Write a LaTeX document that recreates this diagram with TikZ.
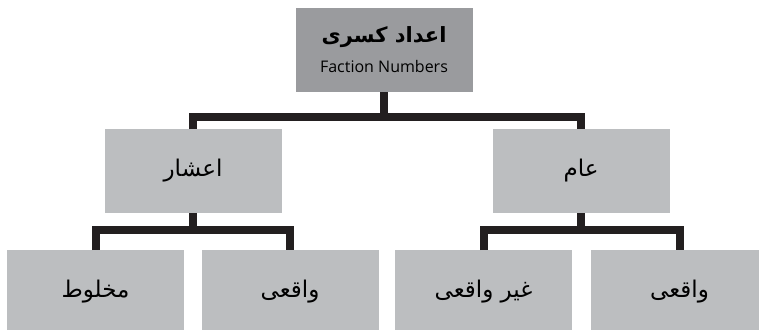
\documentclass[tikz,border=0pt]{standalone}
\usepackage{fontspec}
\setmainfont{Open Sans}
\newfontfamily\arabicfont[Script=Arabic]{DejaVu Sans}
\newfontfamily\latinfont{Open Sans}
\TeXXeTstate=1
\definecolor{darkbox}{HTML}{9A9B9E}
\definecolor{lightbox}{HTML}{BCBEC0}
\definecolor{linecol}{HTML}{231F20}
\tikzset{
  box/.style={fill=lightbox, draw=none, minimum width=177pt, minimum height=84pt, inner sep=0pt, outer sep=0pt, align=center, font=\arabicfont\fontsize{23}{26}\selectfont},
  topbox/.style={box, fill=darkbox},
  conn/.style={draw=linecol, line width=8pt, line join=miter, line cap=butt}
}
\begin{document}
\begin{tikzpicture}[x=1pt, y=1pt]
\useasboundingbox (0,0) rectangle (759,-329);
\clip (0,0) rectangle (759,-329);
\node[topbox] (top) at (384,-50) {{\arabicfont\bfseries\fontsize{21}{24}\selectfont\beginR اعداد کسری\endR}\\[4pt]{\latinfont\fontsize{16}{18}\selectfont Faction Numbers}};
\node[box] (ml) at (193,-171) {\beginR اعشار\endR};
\node[box] (mr) at (581,-171) {\beginR عام\endR};
\node[box] (b1) at (95.5,-292) {\raisebox{-4pt}{\beginR مخلوط\endR}};
\node[box] (b2) at (290,-292) {\raisebox{-4pt}{\beginR واقعی\endR}};
\node[box] (b3) at (483.5,-292) {\raisebox{-4pt}{\beginR غیر واقعی\endR}};
\node[box] (b4) at (679.5,-292) {\raisebox{-4pt}{\beginR واقعی\endR}};
\draw[conn] (top.south) -- ([yshift=-25pt]top.south);
\draw[conn] (ml.north) |- ([yshift=-25pt]top.south) -| (mr.north);
\draw[conn] (ml.south) -- ([yshift=-17pt]ml.south);
\draw[conn] (b1.north) |- ([yshift=-17pt]ml.south) -| (b2.north);
\draw[conn] (mr.south) -- ([yshift=-17pt]mr.south);
\draw[conn] (b3.north) |- ([yshift=-17pt]mr.south) -| (b4.north);
\end{tikzpicture}
\end{document}
